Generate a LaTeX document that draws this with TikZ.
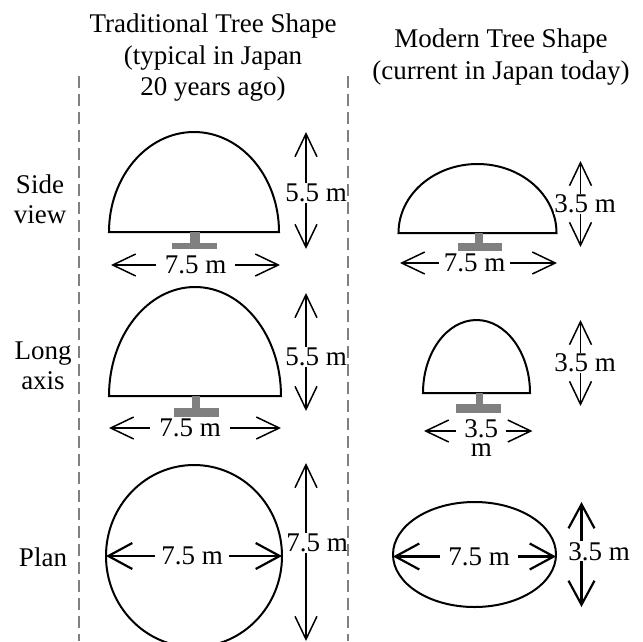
\documentclass[tikz,border=0pt]{standalone}
\usepackage{fontspec}
\setmainfont{Liberation Serif}
\usetikzlibrary{arrows.meta}

\tikzset{
  testo/.style={font=\fontsize{27}{31.5}\selectfont, inner sep=0pt},
  misura/.style={font=\fontsize{27}{31.5}\selectfont, fill=white, inner xsep=9pt, inner ysep=1pt},
  chioma/.style={line width=2pt},
  freccia/.style={line width=1.5pt, {Straight Barb[length=23pt,width=22pt]}-{Straight Barb[length=23pt,width=22pt]}},
  frecciaspessa/.style={line width=2.2pt, {Straight Barb[length=24pt,width=26pt]}-{Straight Barb[length=24pt,width=26pt]}},
  tronco/.style={fill=gray},
  divisorio/.style={gray, line width=1.5pt, dash pattern=on 12pt off 6pt}
}

\begin{document}
\begin{tikzpicture}[x=1pt, y=-1pt]
  \useasboundingbox (0,0) rectangle (643,641);
  \clip (0,0) rectangle (643,641);

  % Titoli
  \node[testo, align=center, anchor=north] (titTrad) at (213,13.6) {Traditional Tree Shape\\(typical in Japan\\20 years ago)};
  \node[testo, align=center, anchor=north] (titMod) at (501,28.6) {Modern Tree Shape\\(current in Japan today)};

  % Etichette delle righe
  \node[testo, align=center, anchor=north, font=\fontsize{27}{29.5}\selectfont] (latTxt) at (40,174.6) {Side\\view};
  \node[testo, align=center, anchor=north, font=\fontsize{27}{30}\selectfont] (lungTxt) at (43,342) {Long\\axis};
  \node[testo, anchor=base] (pianTxt) at (43,566) {Plan};

  % Vista laterale, forma tradizionale
  \draw[chioma] (109,232) arc[start angle=180, end angle=0, x radius=85pt, y radius=100pt] -- cycle;
  \fill[tronco] (189.5,232) rectangle (199.5,243);
  \fill[tronco] (172,243) rectangle (217,248.5);
  \coordinate (sTL) at (111,265);
  \coordinate (sTR) at (280,265);
  \coordinate (sTU) at (306,132);
  \coordinate (sTD) at (306,249);
  \draw[freccia] (sTL) -- (sTR) node[midway, misura] (sTw) {7.5 m};
  \draw[freccia] (sTU) -- (sTD) node[pos=.52, misura, inner xsep=0pt, xshift=10pt] (sTh) {5.5 m};

  % Vista laterale, forma moderna
  \draw[chioma] (398.5,233) arc[start angle=180, end angle=0, x radius=79pt, y radius=69pt] -- cycle;
  \fill[tronco] (475,233) rectangle (483,243);
  \fill[tronco] (458,243) rectangle (502,251);
  \coordinate (sML) at (400,263);
  \coordinate (sMR) at (557,263);
  \coordinate (sMU) at (580.5,161);
  \coordinate (sMD) at (580.5,247);
  \draw[freccia] (sML) -- (sMR) node[midway, misura, inner xsep=5pt, xshift=-4pt] (sMw) {7.5 m};
  \draw[freccia] (sMU) -- (sMD) node[midway, misura, inner xsep=0pt, xshift=4.5pt] (sMh) {3.5 m};

  % Asse lungo, forma tradizionale
  \draw[chioma] (109,396) arc[start angle=180, end angle=0, x radius=86pt, y radius=109pt] -- cycle;
  \fill[tronco] (191.5,396) rectangle (199.5,408);
  \fill[tronco] (174,408) rectangle (219,417);
  \coordinate (aTL) at (109,428);
  \coordinate (aTR) at (281,428);
  \coordinate (aTU) at (306,293);
  \coordinate (aTD) at (306,411);
  \draw[freccia] (aTL) -- (aTR) node[midway, misura, xshift=-5pt] (aTw) {7.5 m};
  \draw[freccia] (aTU) -- (aTD) node[pos=.54, misura, inner xsep=0pt, xshift=10pt] (aTh) {5.5 m};

  % Asse lungo, forma moderna
  \draw[chioma] (423,393) arc[start angle=180, end angle=0, x radius=53.5pt, y radius=73pt] -- cycle;
  \fill[tronco] (475.5,393) rectangle (483,404);
  \fill[tronco] (456,404) rectangle (500.5,412.5);
  \coordinate (aML) at (424,431);
  \coordinate (aMR) at (532.5,431);
  \coordinate (aMU) at (580.5,320);
  \coordinate (aMD) at (580.5,406);
  \draw[freccia] (aML) -- (aMR) node[midway, misura, align=center, inner xsep=8pt, font=\fontsize{27}{18.5}\selectfont, xshift=3pt, yshift=-7pt] (aMw) {3.5\\m};
  \draw[freccia] (aMU) -- (aMD) node[midway, misura, inner xsep=0pt, xshift=4.5pt] (aMh) {3.5 m};

  % Pianta, forma tradizionale
  \draw[chioma] (194,556) ellipse[x radius=88pt, y radius=91pt];
  \coordinate (pTL) at (106,556);
  \coordinate (pTR) at (282,556);
  \coordinate (pTU) at (306,463);
  \coordinate (pTD) at (306,641);
  \draw[frecciaspessa] (pTL) -- (pTR) node[midway, misura, inner xsep=6pt, xshift=-2pt] (pTw) {7.5 m};
  \draw[freccia] (pTU) -- (pTD) node[pos=.45, misura, inner xsep=0pt, xshift=11pt] (pTh) {7.5 m};

  % Pianta, forma moderna
  \draw[chioma] (474.5,554.5) ellipse[x radius=81.5pt, y radius=52.5pt];
  \coordinate (pML) at (393,556.5);
  \coordinate (pMR) at (556,556.5);
  \coordinate (pMU) at (581.5,502);
  \coordinate (pMD) at (581.5,607);
  \draw[frecciaspessa] (pML) -- (pMR) node[midway, misura, inner xsep=8pt, xshift=4.5pt] (pMw) {7.5 m};
  \draw[frecciaspessa] (pMU) -- (pMD) node[pos=.47, misura, inner xsep=0pt, xshift=17.5pt] (pMh) {3.5 m};

  % Linee tratteggiate
  \foreach \x in {79, 348}
    \draw[divisorio] (\x,76) -- (\x,641);
\end{tikzpicture}
\end{document}
